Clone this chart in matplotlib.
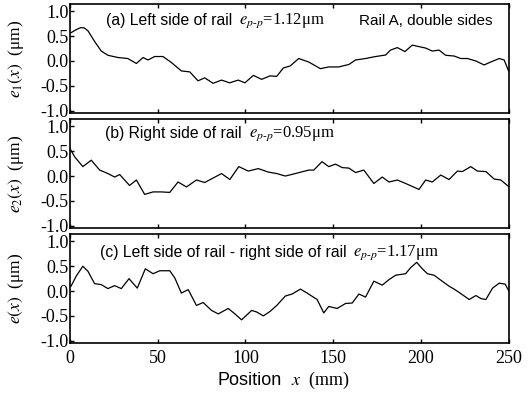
import matplotlib
matplotlib.use("Agg")
import matplotlib.pyplot as plt

plt.rcParams["font.family"] = "Liberation Serif"
plt.rcParams["mathtext.fontset"] = "stix"
plt.rcParams["axes.unicode_minus"] = False

SANS = "Liberation Sans"

# position (mm) and error (um)
x_left = [0.7, 3.5, 6, 8, 10.3, 14, 17.9, 21.7, 27.4, 33, 37.9, 41.7, 44.5, 48.3, 53,
          57.8, 63.5, 68.3, 73, 76.8, 81.6, 86.4, 91, 95.9, 99.7, 104.5, 109.2, 114,
          117.8, 121.6, 125.5, 130.3, 136, 142.7, 147.4, 153.1, 158.9, 162.7, 168.4,
          174.1, 179.8, 182.6, 186.5, 190.8, 195, 198.8, 202.6, 206.4, 210.2, 214,
          218.8, 222.6, 226.4, 231.2, 235.9, 239.7, 244.5, 247.3, 249.8]
e_left = [0.57, 0.63, 0.67, 0.67, 0.61, 0.40, 0.20, 0.115, 0.07, 0.05, -0.05, 0.07, 0.02,
          0.09, 0.09, -0.03, -0.20, -0.22, -0.40, -0.34, -0.45, -0.385, -0.44, -0.385,
          -0.44, -0.29, -0.37, -0.30, -0.31, -0.14, -0.10, 0.05, -0.02, -0.155, -0.12,
          -0.12, -0.07, 0.02, 0.05, 0.09, 0.12, 0.22, 0.27, 0.19, 0.32, 0.29, 0.26, 0.20,
          0.22, 0.115, 0.10, 0.05, 0.05, 0.0, -0.08, -0.02, 0.05, 0.02, -0.20]

x_right = [0, 2.7, 7.4, 12.2, 17, 21.7, 25.5, 28.4, 34, 37.9, 42.6, 47.4, 52.1, 56.9,
           61.6, 66.4, 72.1, 76.8, 81.6, 86.4, 91.1, 96.2, 101.6, 107.3, 113, 117.8,
           122.7, 128.4, 136, 138.9, 143.6, 147.4, 151.3, 155.1, 158.9, 162.7, 167.4,
           173.1, 177.9, 181.7, 186.5, 191.2, 198.8, 202.6, 206.4, 211.2, 215.9, 220.7,
           223.5, 228.3, 232.1, 236.9, 241.6, 245.4, 249.8]
e_right = [0.56, 0.39, 0.19, 0.32, 0.12, 0.05, -0.02, 0.03, -0.19, -0.08, -0.37, -0.32,
           -0.32, -0.33, -0.12, -0.22, -0.08, -0.13, -0.04, 0.05, -0.07, 0.19, 0.10, 0.15,
           0.08, 0.05, 0.0, 0.05, 0.12, 0.12, 0.29, 0.19, 0.24, 0.17, 0.16, 0.07, 0.12,
           -0.15, -0.02, -0.12, -0.08, -0.15, -0.27, -0.08, -0.12, 0.02, -0.07, 0.10, 0.09,
           0.19, 0.10, 0.09, -0.06, -0.08, -0.21]

x_diff = [0.7, 3.6, 7.4, 10.3, 14.1, 17.9, 21.7, 25.5, 29.3, 33.7, 38.4, 43, 47.4, 51.2,
          56.9, 59.7, 63.5, 67.4, 72.1, 75.9, 80.7, 84.5, 90.2, 94, 97.8, 103.5, 106.3,
          110.2, 114, 117.8, 122.7, 126.5, 131.3, 135.1, 140.8, 144.6, 147.4, 152.2, 157,
          160.8, 164.6, 168.4, 173.1, 177.9, 181.7, 185.5, 191.2, 194, 197.5, 200.7,
          203.6, 207.4, 211.2, 215.9, 218.8, 222.6, 227.4, 231.2, 234, 236.9, 240.7,
          244.5, 247.9, 250]
e_diff = [0.10, 0.30, 0.50, 0.40, 0.15, 0.13, 0.05, 0.11, 0.05, 0.25, 0.06, 0.45, 0.35,
          0.41, 0.41, 0.27, -0.04, 0.03, -0.29, -0.23, -0.39, -0.46, -0.35, -0.46, -0.58,
          -0.39, -0.42, -0.50, -0.41, -0.29, -0.10, -0.06, 0.04, -0.04, -0.17, -0.44,
          -0.31, -0.35, -0.25, -0.24, -0.06, -0.12, 0.20, 0.12, 0.23, 0.32, 0.35, 0.47,
          0.58, 0.45, 0.35, 0.32, 0.22, 0.10, 0.04, -0.05, -0.17, -0.09, -0.15, -0.17,
          0.06, 0.16, 0.14, 0.0]

panels = [
    (x_left, e_left, r"$e_1(x)$  (μm)", "(a) Left side of rail", "1.12"),
    (x_right, e_right, r"$e_2(x)$  (μm)", "(b) Right side of rail", "0.95"),
    (x_diff, e_diff, r"$e(x)$  (μm)", "(c) Left side of rail - right side of rail", "1.17"),
]
label_pos = [(20.5, 0.81), (20, 0.86), (17, 0.78)]
y_ticks = [-1.0, -0.5, 0.0, 0.5, 1.0]
x_ticks = [0, 50, 100, 150, 200, 250]

fig = plt.figure(figsize=(5.29, 3.94), dpi=100)
bottoms = [0.713, 0.421, 0.129]

for i, (xs, es, ylab, title, epp) in enumerate(panels):
    ax = fig.add_axes([0.132, bottoms[i], 0.83, 0.277])
    ax.plot(xs, es, color="black", lw=0.9)
    ax.set_xlim(0, 250)
    ax.set_ylim(-1.05, 1.15)
    ax.set_yticks(y_ticks)
    ax.set_yticklabels([f"{v:.1f}" for v in y_ticks])
    ax.set_xticks(x_ticks)
    ax.tick_params(direction="in", length=3, width=1, top=True, right=False,
                   labelsize=13)
    ax.tick_params(axis="y", pad=1)
    ax.tick_params(axis="x", pad=5)
    if i < 2:
        ax.tick_params(labelbottom=False)
    for sp in ax.spines.values():
        sp.set_linewidth(1.2)
    ax.set_ylabel(ylab, fontsize=12.5)
    ax.yaxis.set_label_coords(-0.1, 0.5)

    tx, ty = label_pos[i]
    t = ax.text(tx, ty, title, family=SANS, fontsize=11.3, va="center", ha="left")
    ax.annotate(r"$e_{p\text{-}p}$=" + epp + "μm", xy=(1, 0.5), xycoords=t,
                xytext=(5, 0), textcoords="offset points", va="center", ha="left",
                fontsize=12)
    if i == 0:
        ax.text(164.4, ty, "Rail A, double sides", family=SANS, fontsize=11,
                va="center", ha="left")

lbl = fig.text(0.412, 0.035, "Position", family=SANS, fontsize=13, ha="left",
               va="center")
ax.annotate(r"$x$  (mm)", xy=(1, 0.5), xycoords=lbl, xytext=(6, 0),
            textcoords="offset points", va="center", ha="left", fontsize=13)

fig.savefig("out.png", dpi=100)
